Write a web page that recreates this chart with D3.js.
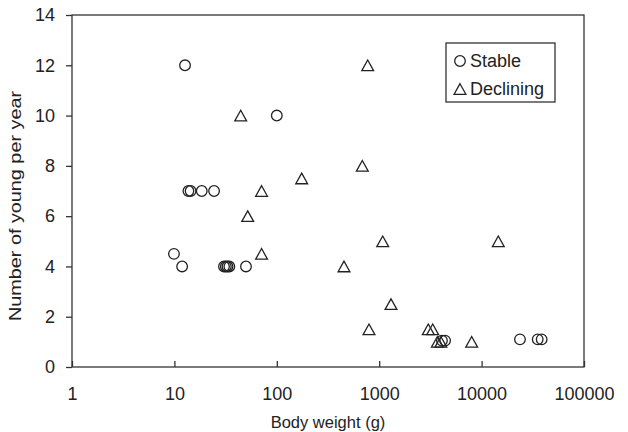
<!DOCTYPE html>
<html>
<head>
<meta charset="utf-8">
<script src="https://cdn.jsdelivr.net/npm/d3@7"></script>
<style>
  html, body { margin: 0; padding: 0; background: #fff; }
  svg { display: block; font-family: "Liberation Sans", Arial, Helvetica, sans-serif; }
</style>
</head>
<body>
<svg id="chart" width="628" height="432"></svg>
<script>
// ---- data ----
const stableWeight = [12.7, 100, 13.7, 14.4, 18.5, 24.4, 9.9, 11.9, 30.5, 31.8, 33, 34.4, 50, 4100, 4400, 23700, 35300, 38600];
const stableYoung  = [12, 10, 7, 7, 7, 7, 4.5, 4, 4, 4, 4, 4, 4, 1.05, 1.05, 1.1, 1.1, 1.1];
const decliningWeight = [44.4, 772, 684, 175, 71, 52, 71, 1082, 453, 1304, 795, 3016, 3330, 3700, 4000, 8000, 14560];
const decliningYoung  = [10, 12, 8, 7.5, 7, 6, 4.5, 5, 4, 2.5, 1.5, 1.5, 1.5, 1, 1, 1, 5];
const xTickValues = [1, 10, 100, 1000, 10000, 100000];
const yTickValues = [0, 2, 4, 6, 8, 10, 12, 14];
const seriesNames = ["Stable", "Declining"];
const xTitle = "Body weight (g)";
const yTitle = "Number of young per year";

// ---- layout ----
const L = 72, R = 584, T = 15, B = 367;
const ink = "#222";
const svg = d3.select("#chart");

const x = d3.scaleLog().domain([1, 100000]).range([L, R]);
const y = d3.scaleLinear().domain([0, 14]).range([B, T]);

// frame
svg.append("rect")
  .attr("x", L).attr("y", T).attr("width", R - L).attr("height", B - T)
  .attr("fill", "none").attr("stroke", "#333").attr("stroke-width", 1.3);

// y axis
const yAxis = svg.append("g").attr("transform", `translate(${L},0)`)
  .call(d3.axisLeft(y).tickValues(yTickValues).tickSize(6).tickPadding(11).tickFormat(d3.format("d")));
yAxis.select(".domain").remove();
yAxis.selectAll("line").attr("stroke", "#333").attr("stroke-width", 1.3);
yAxis.selectAll("text").attr("fill", ink).style("font-size", "18px");

// x axis (ticks inward)
const xAxis = svg.append("g").attr("transform", `translate(0,${B})`)
  .call(d3.axisBottom(x).tickValues(xTickValues).tickSizeInner(-6).tickSizeOuter(0).tickPadding(20).tickFormat(d3.format("d")));
xAxis.select(".domain").remove();
xAxis.selectAll("line").attr("stroke", "#333").attr("stroke-width", 1.3);
xAxis.selectAll("text").attr("fill", ink).style("font-size", "18px");

// titles
svg.append("text")
  .attr("x", 328).attr("y", 428).attr("text-anchor", "middle")
  .attr("fill", ink).style("font-size", "16.5px").text(xTitle);
svg.append("text")
  .attr("transform", "translate(21,206) rotate(-90)").attr("text-anchor", "middle")
  .attr("textLength", 230).attr("lengthAdjust", "spacingAndGlyphs")
  .attr("fill", ink).style("font-size", "17px").text(yTitle);

// markers
const triPath = "M0,-5.3L5.9,5.3L-5.9,5.3Z";
const stable = d3.zip(stableWeight, stableYoung);
const declining = d3.zip(decliningWeight, decliningYoung);

svg.append("g").selectAll("circle").data(stable).join("circle")
  .attr("cx", d => x(d[0])).attr("cy", d => y(d[1])).attr("r", 5.3)
  .attr("fill", "none").attr("stroke", ink).attr("stroke-width", 1.3);

svg.append("g").selectAll("path").data(declining).join("path")
  .attr("transform", d => `translate(${x(d[0])},${y(d[1])})`)
  .attr("d", triPath)
  .attr("fill", "none").attr("stroke", ink).attr("stroke-width", 1.3).attr("stroke-linejoin", "miter");

// legend
const lg = svg.append("g");
lg.append("rect").attr("x", 446).attr("y", 43).attr("width", 109).attr("height", 59)
  .attr("fill", "#fff").attr("stroke", "#333").attr("stroke-width", 1.3);
lg.append("circle").attr("cx", 460).attr("cy", 61).attr("r", 5.3)
  .attr("fill", "none").attr("stroke", ink).attr("stroke-width", 1.3);
lg.append("path").attr("transform", "translate(460,89)").attr("d", triPath)
  .attr("fill", "none").attr("stroke", ink).attr("stroke-width", 1.3);
lg.append("text").attr("x", 470).attr("y", 67).attr("fill", ink).style("font-size", "18px").text(seriesNames[0]);
lg.append("text").attr("x", 470).attr("y", 95).attr("fill", ink).style("font-size", "18px").text(seriesNames[1]);
</script>
</body>
</html>
